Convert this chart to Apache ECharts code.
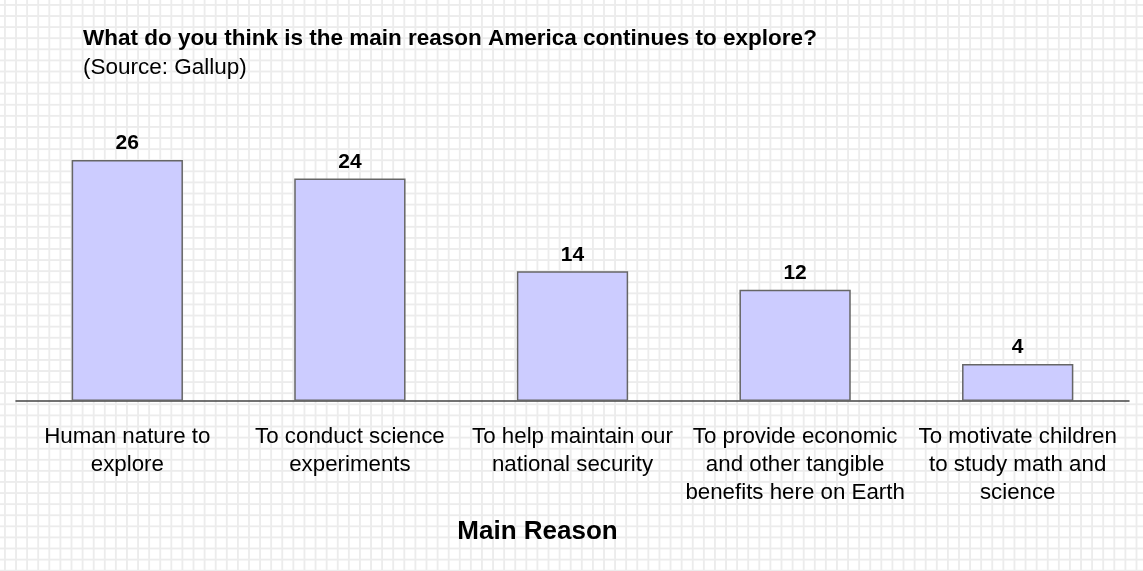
<!DOCTYPE html>
<html>
<head>
<meta charset="utf-8">
<script src="https://cdn.jsdelivr.net/npm/echarts@6/dist/echarts.min.js"></script>
<style>
  html, body { margin: 0; padding: 0; background: #ffffff; }
  #chart {
    width: 1143px; height: 571px;
    background-color: #ffffff;
    background-image:
      linear-gradient(to right, #ececec 1.5px, transparent 1.5px),
      linear-gradient(to bottom, #ececec 1.5px, transparent 1.5px);
    background-size: 11.1px 11.1px;
    background-position: 4px 4px;
  }
</style>
</head>
<body>
<div id="chart"></div>
<script>
// Survey answers: main reason America continues to explore (percent)
const categories = [
  'Human nature to\nexplore',
  'To conduct science\nexperiments',
  'To help maintain our\nnational security',
  'To provide economic\nand other tangible\nbenefits here on Earth',
  'To motivate children\nto study math and\nscience'
];
const values = [26, 24, 14, 12, 4];

const titleText = 'What do you think is the main reason America continues to explore?';
const subtitleText = '(Source: Gallup)';
const axisTitle = 'Main Reason';

const chart = echarts.init(document.getElementById('chart'), null, { renderer: 'canvas' });
const font = 'Liberation Sans, Arial, Helvetica, sans-serif';

chart.setOption({
  backgroundColor: 'transparent',
  animation: false,
  title: {
    text: titleText,
    subtext: subtitleText,
    left: 78,
    top: 22,
    itemGap: 6,
    textStyle: { fontFamily: font, fontSize: 22.5, fontWeight: 'bold', color: '#000' },
    subtextStyle: { fontFamily: font, fontSize: 22.5, color: '#000' }
  },
  grid: { left: 16, right: 14, top: 123, bottom: 170, containLabel: false },
  xAxis: {
    type: 'category',
    data: categories,
    name: axisTitle,
    nameLocation: 'middle',
    nameGap: 118,
    nameTextStyle: {
      fontFamily: font, fontSize: 26, fontWeight: 'bold', color: '#000',
      padding: [0, 70, 0, 0]
    },
    axisLine: { lineStyle: { color: '#444', width: 1.5 } },
    axisTick: { show: false },
    axisLabel: {
      interval: 0,
      margin: 22,
      fontFamily: font, fontSize: 22.3, color: '#000',
      lineHeight: 28
    }
  },
  yAxis: {
    type: 'value',
    min: 0,
    max: 30,
    show: false,
    splitLine: { show: false }
  },
  series: [{
    type: 'bar',
    data: values,
    barWidth: '50%',
    itemStyle: { color: '#ccccff', borderColor: '#666', borderWidth: 1.5 },
    label: {
      show: true,
      position: 'top',
      distance: 6,
      fontFamily: font, fontSize: 21, fontWeight: 'bold', color: '#000'
    }
  }]
});
</script>
</body>
</html>
